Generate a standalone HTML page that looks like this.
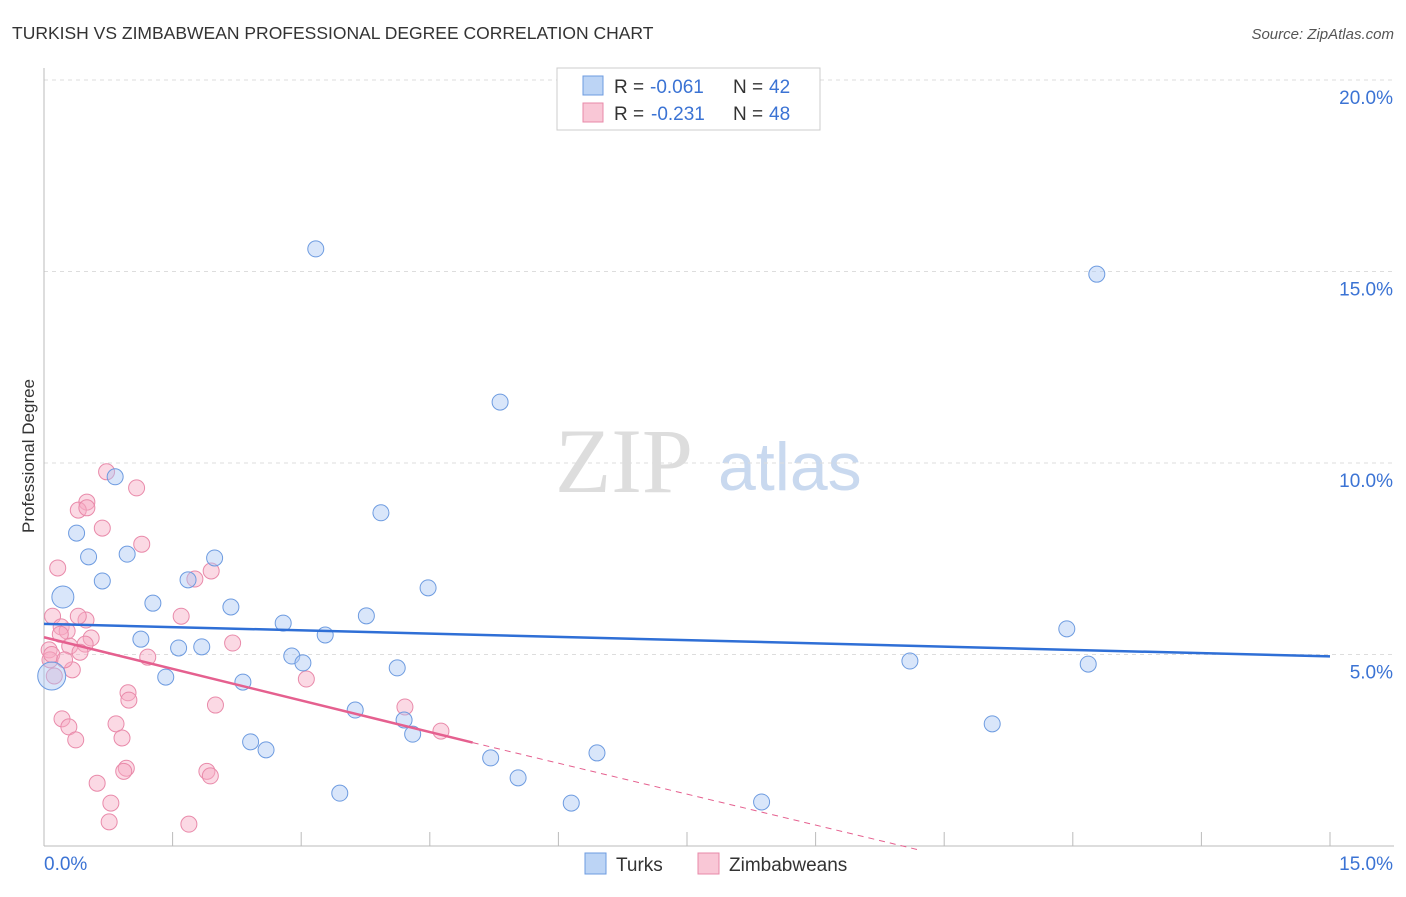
<!DOCTYPE html>
<html><head><meta charset="utf-8"><style>
body{margin:0;background:#fff;font-family:"Liberation Sans",sans-serif}
</style></head><body>
<svg id="c" width="1406" height="892" xmlns="http://www.w3.org/2000/svg" style="font-family:'Liberation Sans',sans-serif">
<text x="12" y="39" font-size="17.5" fill="#333">TURKISH VS ZIMBABWEAN PROFESSIONAL DEGREE CORRELATION CHART</text>
<text x="1394" y="39" font-size="15" fill="#555" text-anchor="end" font-style="italic">Source: ZipAtlas.com</text>
<text x="34" y="456" font-size="17" fill="#333" text-anchor="middle" transform="rotate(-90 34 456)">Professional Degree</text>
<text x="555" y="492" font-size="92" fill="#ddd" font-family="Liberation Serif">ZIP</text>
<text x="718" y="490" font-size="68" fill="#c9d9ef">atlas</text>
<g id="grid"></g><g id="pts"></g><g id="lines"></g>
<g>
<rect x="557" y="68" width="263" height="62" fill="#fff" stroke="#ccc"/>
<rect x="583" y="76" width="20" height="19" fill="#bcd4f5" stroke="#6d9be0"/>
<text y="93" font-size="19" fill="#333"><tspan x="614">R =</tspan><tspan x="650" fill="#3b73d4">-0.061</tspan><tspan x="733">N =</tspan><tspan x="769" fill="#3b73d4">42</tspan></text>
<rect x="583" y="103" width="20" height="19" fill="#f9c7d6" stroke="#e88aa8"/>
<text y="120" font-size="19" fill="#333"><tspan x="614">R =</tspan><tspan x="651" fill="#3b73d4">-0.231</tspan><tspan x="733">N =</tspan><tspan x="769" fill="#3b73d4">48</tspan></text>
</g>
<g>
<rect x="585" y="853" width="21" height="21" fill="#bcd4f5" stroke="#6d9be0"/>
<text x="616" y="871" font-size="19" fill="#333">Turks</text>
<rect x="698" y="853" width="21" height="21" fill="#f9c7d6" stroke="#e88aa8"/>
<text x="729" y="871" font-size="19" fill="#333">Zimbabweans</text>
</g>
</svg>
<script>
const yTicks=[5,10,15,20];
const xTickLabels=["0.0%","15.0%"];
const turksX=[3.17,12.28,5.32,0.83,3.93,0.38,0.52,0.97,1.99,0.68,1.68,4.48,0.22,1.27,2.18,3.76,2.79,3.28,11.93,1.13,1.57,1.84,2.89,3.02,4.12,10.10,12.18,1.42,2.32,0.09,3.63,4.20,11.06,4.30,2.41,2.59,6.45,5.21,5.53,3.45,6.15,8.37];
const turksY=[15.59,14.93,11.59,9.64,8.70,8.17,7.55,7.62,7.52,6.92,6.95,6.74,6.50,6.34,6.24,6.01,5.82,5.51,5.67,5.40,5.17,5.20,4.96,4.78,4.65,4.83,4.75,4.41,4.28,4.44,3.55,3.29,3.19,2.92,2.72,2.51,2.43,2.30,1.78,1.38,1.12,1.15];
const zimX=[0.73,1.08,0.5,0.4,0.5,0.68,1.14,0.16,1.95,1.76,0.1,1.6,0.49,0.4,0.2,0.27,0.19,0.55,0.48,0.3,2.2,0.06,0.42,1.21,0.07,0.33,3.06,0.12,0.98,0.99,2.0,4.21,0.21,0.29,0.84,4.63,0.91,0.37,0.96,0.93,1.9,1.94,0.62,0.78,0.76,1.69,0.09,0.24];
const zimY=[9.77,9.35,8.98,8.77,8.83,8.3,7.88,7.26,7.18,6.97,6.0,6.0,5.9,6.0,5.72,5.61,5.53,5.43,5.27,5.22,5.3,5.12,5.06,4.93,4.86,4.6,4.36,4.44,4.0,3.81,3.68,3.63,3.32,3.11,3.19,3.0,2.82,2.77,2.03,1.95,1.95,1.83,1.64,1.12,0.63,0.57,5.0,4.86];
const NS="http://www.w3.org/2000/svg";
const X=v=>44+v/15*1286, Y=v=>846-v/5*191.5;
function el(t,a,p){const e=document.createElementNS(NS,t);for(const k in a)e.setAttribute(k,a[k]);document.getElementById(p).appendChild(e);return e;}
yTicks.forEach((t,i)=>{
 const l=el('line',{x1:44,x2:1394,y1:Y(t),y2:Y(t),stroke:'#ddd','stroke-dasharray':'4,4'},'grid');
 
 
 const tx=el('text',{x:1393,y:Y(t)+24,'font-size':19,fill:'#3b73d4','text-anchor':'end'},'grid');tx.textContent=t.toFixed(1)+'%';
 
 
});
const ax=el('line',{x1:44,x2:44,y1:68,y2:846,stroke:'#bbb'},'grid');


const bx=el('line',{x1:44,x2:1394,y1:846,y2:846,stroke:'#bbb'},'grid');


for(let i=0;i<=10;i++){const t=el('line',{x1:X(i*1.5),x2:X(i*1.5),y1:832,y2:846,stroke:'#bbb'},'grid');
 
 }
[[0,44,'start'],[1,1393,'end']].forEach(([i,x,a])=>{const t=el('text',{x:x,y:870,'font-size':19,fill:'#3b73d4','text-anchor':a},'grid');t.textContent=xTickLabels[i];
 
 });
zimX.forEach((x,i)=>{const c=el('circle',{cx:X(x),cy:Y(zimY[i]),r:8,fill:'rgba(246,170,195,0.45)',stroke:'#e98aaa','stroke-width':1},'pts');
 
 });
turksX.forEach((x,i)=>{const big=(i==12||i==29);const c=el('circle',{cx:X(x),cy:Y(turksY[i]),r:big?(i==29?14:11):8,fill:'rgba(170,200,245,0.45)',stroke:'#6d9be0','stroke-width':1},'pts');
 
 });
const tl=el('line',{x1:X(0),y1:Y(5.8),x2:X(15),y2:Y(4.95),stroke:'#2f6fd6','stroke-width':2.5},'lines');


const zl=el('line',{x1:X(0),y1:Y(5.45),x2:X(5),y2:Y(2.7),stroke:'#e5608f','stroke-width':2.5},'lines');


const zd=el('line',{x1:X(5),y1:Y(2.7),x2:X(10.2),y2:Y(-0.1),stroke:'#e5608f','stroke-width':1,'stroke-dasharray':'6,5'},'lines');


</script>
</body></html>
